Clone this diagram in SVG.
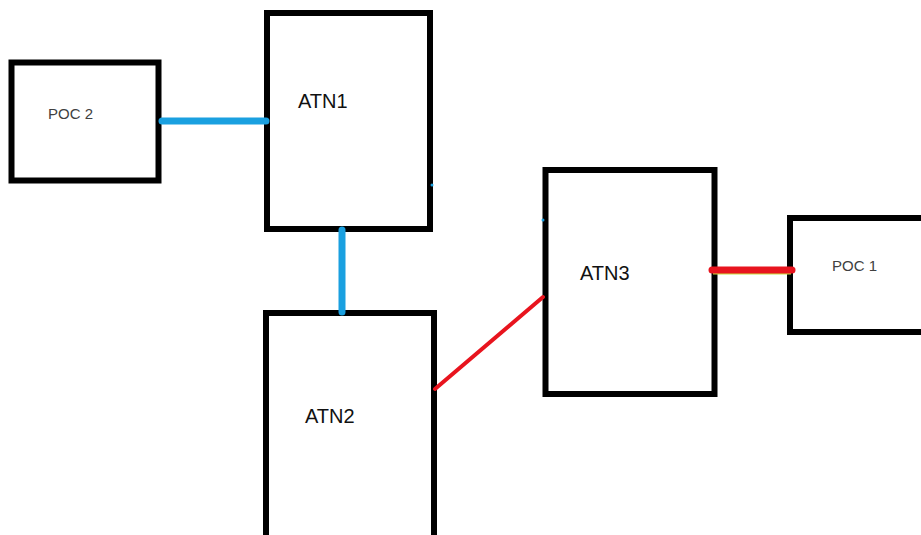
<svg xmlns="http://www.w3.org/2000/svg" width="921" height="535" viewBox="0 0 921 535">
<style>
.box{fill:#ffffff;stroke:#000000;stroke-width:6}
.atn{font-family:"Liberation Sans",Arial,sans-serif;font-size:20px;fill:#111111}
.poc{font-family:"Liberation Sans",Arial,sans-serif;font-size:15px;fill:#404040}
.blue{stroke:#1aa0e0;stroke-width:7;stroke-linecap:round;fill:none}
.red{stroke:#e8141e;fill:none;stroke-linecap:round}
</style>
<rect width="921" height="535" fill="#ffffff"/>
<g id="POC2">
<rect class="box" x="11.5" y="62.5" width="147" height="118" stroke-width="5"/>
<text class="poc" x="48" y="119">POC 2</text>
</g>
<g id="ATN1">
<rect class="box" x="267" y="13" width="163" height="216"/>
<text class="atn" x="298" y="108">ATN1</text>
</g>
<g id="ATN2">
<rect class="box" x="266" y="313" width="168" height="240"/>
<text class="atn" x="305" y="423">ATN2</text>
</g>
<g id="ATN3">
<rect class="box" x="545.5" y="170" width="169" height="224"/>
<text class="atn" x="580" y="280">ATN3</text>
</g>
<g id="POC1">
<rect class="box" x="790" y="218" width="200" height="114"/>
<text class="poc" x="832" y="271">POC 1</text>
</g>
<g id="connectors">
<line class="blue" x1="162" y1="121" x2="266" y2="121"/>
<line class="blue" x1="342" y1="230" x2="342" y2="312"/>
<line class="red" x1="435" y1="389" x2="543" y2="297" stroke-width="4"/>
<line x1="713" y1="273" x2="791" y2="273" stroke="#c8e040" stroke-width="3"/>
<line class="red" x1="712" y1="270" x2="792" y2="270" stroke-width="7"/>
<circle cx="432" cy="185" r="1.5" fill="#1aa0e0"/>
<circle cx="543" cy="220" r="1.5" fill="#1aa0e0"/>
</g>
</svg>
